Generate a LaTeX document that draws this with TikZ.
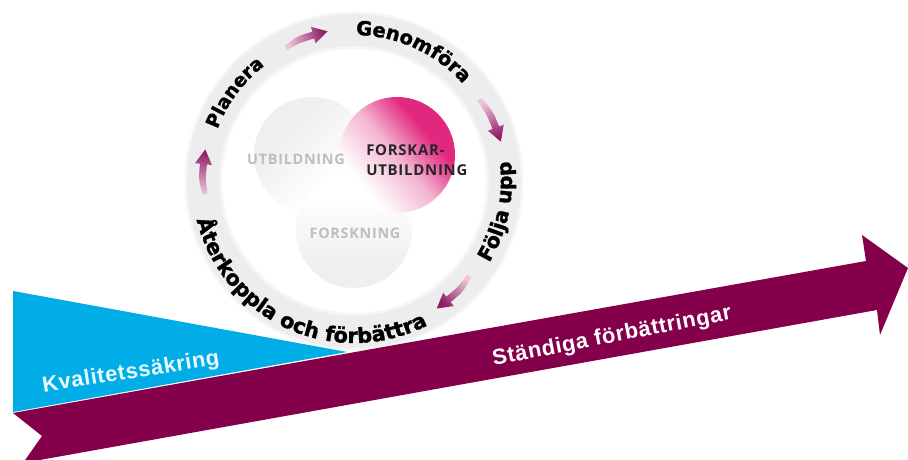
\documentclass[tikz,border=0pt]{standalone}
\usepackage{fontspec}
\usetikzlibrary{calc,decorations.text}
\setmainfont{Liberation Sans}
\newfontfamily\ringfont[FakeBold=1.4]{DejaVu Sans Bold}
\newfontfamily\circfont[LetterSpace=5]{Open Sans Bold}
\newfontfamily\barfont[LetterSpace=3]{Liberation Sans Bold}
\definecolor{plum}{HTML}{85004B}
\definecolor{skyb}{HTML}{00ADE6}
\definecolor{ringgray}{HTML}{EDEDED}
\definecolor{ringsoft}{HTML}{F6F6F6}
\definecolor{softgray}{HTML}{EFEFEF}
\definecolor{labgray}{HTML}{BEBEBE}
\definecolor{hotpink}{HTML}{E2277F}
\definecolor{midpink}{HTML}{F3B3D0}
\definecolor{arrowdark}{HTML}{8E1A63}
\definecolor{arrowlight}{HTML}{EDC3DA}
\pgfdeclareverticalshading{pinkfade}{100bp}{color(0bp)=(white); color(30bp)=(white); color(50bp)=(midpink); color(66bp)=(hotpink); color(100bp)=(hotpink)}
\pgfdeclareverticalshading{grayfade}{100bp}{color(0bp)=(white); color(36bp)=(white); color(64bp)=(softgray); color(100bp)=(softgray)}
\tikzset{
  ringtext/.style n args={2}{decorate,decoration={text along path,text align=center,
    text={|\ringfont\fontsize{#1}{16}\selectfont|#2}}},
  circlabel/.style={font=\circfont\fontsize{10.8}{15}\selectfont,inner sep=0pt},
  barlabel/.style={font=\barfont\fontsize{16.4}{18}\selectfont,inner sep=0pt,text=white}
}
\newcommand{\ringarrow}[2]{%
  \pgfmathsetmacro{\ah}{#2+5.6*(#1-#2)/abs(#1-#2)}
  \pgfmathsetmacro{\am}{(#1+\ah)/2}
  \pgfmathsetmacro{\sa}{(#1+#2)/2-180}
  \shade[top color=arrowdark,bottom color=arrowlight,shading angle=\sa]
    ($(c)+(#1:152)$) .. controls ($(c)+(\am:155.5)$) .. ($(c)+(\ah:155)$)
    -- ($(c)+(\ah:160)$) -- ($(c)+(#2:152)$) -- ($(c)+(\ah:143)$) -- ($(c)+(\ah:148)$)
    .. controls ($(c)+(\am:148.5)$) .. ($(c)+(#1:147)$) -- cycle;
}
\begin{document}
\begin{tikzpicture}[x=0.75pt,y=0.75pt]
\useasboundingbox (0,0) rectangle (908,460);
\fill[white] (0,0) rectangle (908,460);
\coordinate (c) at (354,279);
% ring
\fill[ringsoft,even odd rule] (c) circle[radius=169.5] (c) circle[radius=132];
\fill[ringgray,even odd rule] (c) circle[radius=167] (c) circle[radius=135];
% circles
\shade[shading=grayfade,shading angle=45] (312,305) circle[radius=58];
\shade[shading=grayfade,shading angle=180] (354,230) circle[radius=58];
\shade[shading=pinkfade,shading angle=-50] (397,305) circle[radius=58];
\node[circlabel,text=labgray] (lu) at (296,301) {UTBILDNING};
\node[circlabel,text=labgray] (lf) at (355,227) {FORSKNING};
\node[circlabel,font=\circfont\fontsize{11.2}{15}\selectfont,text=black!85,align=left,anchor=west] (lk) at (366,300) {FORSKAR-\\UTBILDNING};
% ring arrows
\ringarrow{117}{100}
\ringarrow{33}{15}
\ringarrow{-39.6}{-57}
\ringarrow{185}{168}
% ring texts
\path[ringtext={14}{Planera}] ($(c)+(190:146)$) arc[start angle=190,end angle=97,radius=146];
\path[ringtext={14.6}{Genomföra}] ($(c)+(105:146)$) arc[start angle=105,end angle=26,radius=146];
\path[ringtext={15.2}{Följa upp}] ($(c)+(-55:158)$) arc[start angle=-55,end angle=31,radius=158];
\path[ringtext={15.6}{Återkoppla och förbättra}] ($(c)+(171.5:162)$) arc[start angle=171.5,end angle=319.5,radius=162];
% big arrow
\fill[plum] (13,47) -- (42,24) -- (23,-3) -- (877,150) -- (880,125) -- (908,192) -- (862,225) -- (866,199) -- cycle;
\fill[skyb] (13,169) -- (13,48) -- (347,108) -- cycle;
\node[barlabel,text=white!92!skyb,rotate=9] (kv) at (131,87) {Kvalitetssäkring};
\node[barlabel,rotate=11] (st) at (612,123) {Ständiga förbättringar};
\end{tikzpicture}
\end{document}
